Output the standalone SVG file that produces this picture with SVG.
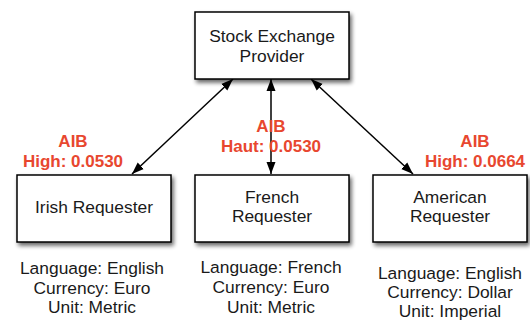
<svg xmlns="http://www.w3.org/2000/svg" width="530" height="320" viewBox="0 0 530 320">
<style>
.box{fill:#fff;stroke:#000;stroke-width:1.5;filter:url(#sh)}
.t{font-family:"Liberation Sans",Arial,sans-serif;font-size:17.4px;fill:#1a1a1a;text-anchor:middle}
.r{font-family:"Liberation Sans",Arial,sans-serif;font-size:17px;font-weight:bold;fill:#e8472f;text-anchor:middle}
.c{stroke:#000;stroke-width:1.5;fill:none;marker-start:url(#ah);marker-end:url(#ah)}
</style>
<defs>
<filter id="sh" x="-10%" y="-10%" width="130%" height="140%">
<feGaussianBlur in="SourceAlpha" stdDeviation="2"/>
<feOffset dx="2" dy="3" result="b"/>
<feComponentTransfer><feFuncA type="linear" slope="0.6"/></feComponentTransfer>
<feMerge><feMergeNode/><feMergeNode in="SourceGraphic"/></feMerge>
</filter>
<marker id="ah" viewBox="0 0 12 10" refX="12" refY="5" markerWidth="12" markerHeight="10" markerUnits="userSpaceOnUse" orient="auto-start-reverse">
<path d="M0,0.5 L12,5 L0,9.5 Z" fill="#000"/>
</marker>
</defs>
<rect width="530" height="320" fill="#fff"/>
<g id="connectors">
<line class="c" x1="233" y1="79" x2="132" y2="174"/>
<line class="c" x1="271" y1="79" x2="271" y2="174"/>
<line class="c" x1="311" y1="79" x2="413" y2="174"/>
</g>
<g id="provider">
<rect class="box" x="195" y="12" width="154" height="67"/>
<text class="t" x="272" y="42">Stock Exchange</text>
<text class="t" x="272" y="62">Provider</text>
</g>
<g id="irish">
<rect class="box" x="17" y="175" width="154" height="67"/>
<text class="t" x="94" y="213">Irish Requester</text>
<text class="r" x="73" y="147">AIB</text>
<text class="r" x="73" y="167">High: 0.0530</text>
<text class="t" x="92" y="274">Language: English</text>
<text class="t" x="92" y="294">Currency: Euro</text>
<text class="t" x="92" y="313">Unit: Metric</text>
</g>
<g id="french">
<rect class="box" x="195" y="175" width="154" height="67"/>
<text class="t" x="272" y="203">French</text>
<text class="t" x="272" y="222">Requester</text>
<text class="r" x="271" y="132">AIB</text>
<text class="r" x="271" y="152">Haut: 0.0530</text>
<text class="t" x="271" y="273">Language: French</text>
<text class="t" x="271" y="293">Currency: Euro</text>
<text class="t" x="271" y="313">Unit: Metric</text>
</g>
<g id="american">
<rect class="box" x="373" y="175" width="154" height="67"/>
<text class="t" x="450" y="203">American</text>
<text class="t" x="450" y="222">Requester</text>
<text class="r" x="475" y="147">AIB</text>
<text class="r" x="475" y="167">High: 0.0664</text>
<text class="t" x="450" y="279">Language: English</text>
<text class="t" x="450" y="298">Currency: Dollar</text>
<text class="t" x="450" y="317">Unit: Imperial</text>
</g>
</svg>
